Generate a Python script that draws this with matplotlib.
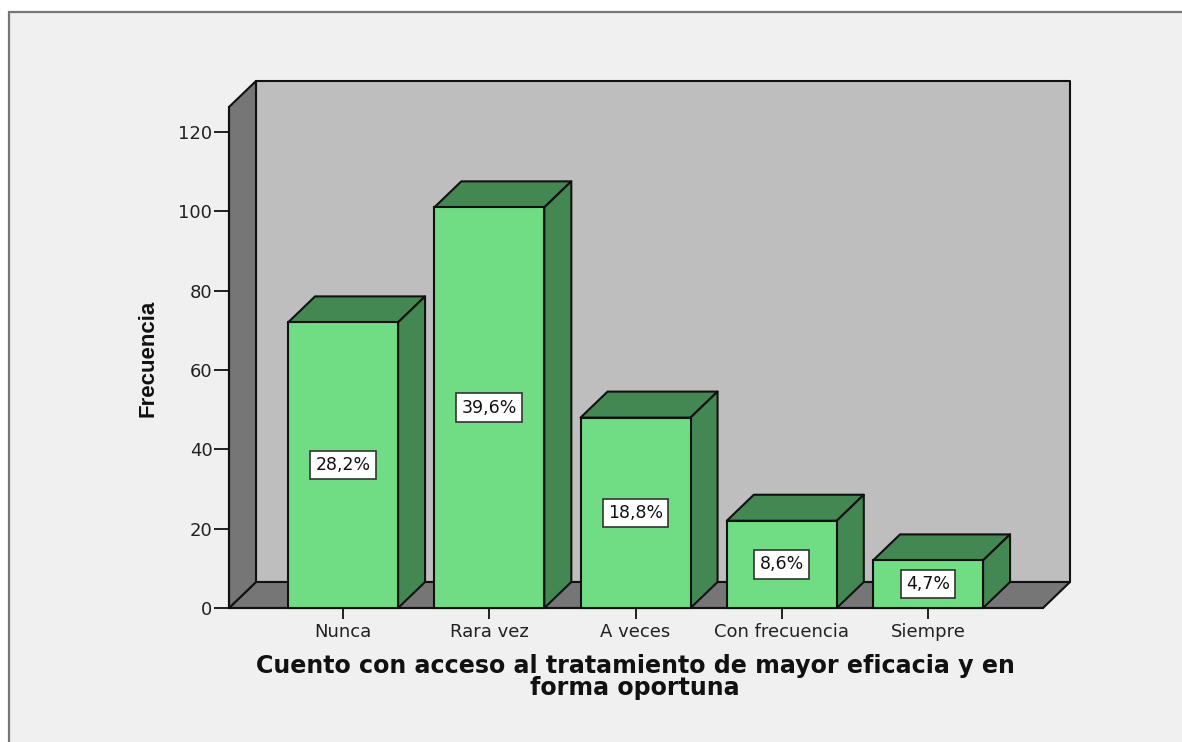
import matplotlib
matplotlib.use("Agg")
import matplotlib.pyplot as plt
from matplotlib.patches import Polygon, Rectangle

categories = ["Nunca", "Rara vez", "A veces", "Con frecuencia", "Siempre"]
values = [72, 101, 48, 22, 12]
percent_labels = ["28,2%", "39,6%", "18,8%", "8,6%", "4,7%"]
y_ticks = [0, 20, 40, 60, 80, 100, 120]
x_title = "Cuento con acceso al tratamiento de mayor eficacia y en\nforma oportuna"
y_title = "Frecuencia"

W, H = 1182, 742
FRONT, SIDE, WALL, DARK, BG, LINE = "#70dd85", "#438852", "#bebebe", "#767676", "#f0f0f0", "#111111"
LW = 1.5
BAR_W = 110 / 146.25
DX, DY = 27 / 146.25, 26 / 3.967
XLIM = (-0.78, 4.786)
YLIM = (0, 126.3)

fig = plt.figure(figsize=(W / 100, H / 100), dpi=100, facecolor="white")
fig.add_artist(Rectangle((9 / W, -10 / H), 1190 / W, (H - 12 + 10) / H, transform=fig.transFigure,
                         facecolor=BG, edgecolor="#777777", linewidth=1.6, zorder=-1))
ax = fig.add_axes([229 / W, (H - 608) / H, (1043 - 229) / W, (608 - 107) / H])
ax.patch.set_visible(False)
ax.set_xlim(*XLIM)
ax.set_ylim(*YLIM)


def face(pts, color, z):
    ax.add_patch(Polygon(pts, closed=True, facecolor=color, edgecolor=LINE, linewidth=LW,
                         joinstyle="round", clip_on=False, zorder=z))


x0, x1, y1 = XLIM[0], XLIM[1], YLIM[1]
face([(x0 + DX, DY), (x1 + DX, DY), (x1 + DX, y1 + DY), (x0 + DX, y1 + DY)], WALL, 1)
face([(x0, 0), (x1, 0), (x1 + DX, DY), (x0 + DX, DY)], DARK, 1.1)
face([(x0, 0), (x0 + DX, DY), (x0 + DX, y1 + DY), (x0, y1)], DARK, 1.2)

xs = list(range(len(values)))
ax.bar(xs, values, width=BAR_W, color=FRONT, edgecolor=LINE, linewidth=LW, zorder=3, clip_on=False)
for x, v, lab in zip(xs, values, percent_labels):
    l, r = x - BAR_W / 2, x + BAR_W / 2
    face([(l, v), (r, v), (r + DX, v + DY), (l + DX, v + DY)], SIDE, 2.5)
    face([(r, 0), (r + DX, DY), (r + DX, v + DY), (r, v)], SIDE, 2.5)
    ax.text(x, v / 2, lab, ha="center", va="center", fontsize=12.5, color="#111111",
            family="DejaVu Sans", zorder=5,
            bbox=dict(boxstyle="square,pad=0.3", facecolor="white", edgecolor="#333333", linewidth=1.2))

for s in ("top", "right"):
    ax.spines[s].set_visible(False)
for s in ("left", "bottom"):
    ax.spines[s].set_linewidth(LW)
    ax.spines[s].set_color(LINE)
    ax.spines[s].set_zorder(2)
ax.set_xticks(xs)
ax.set_xticklabels(categories, family="DejaVu Sans", fontsize=13, color="#222222")
ax.set_yticks(y_ticks)
ax.set_yticklabels([str(t) for t in y_ticks], family="DejaVu Sans", fontsize=13, color="#222222")
ax.tick_params(axis="x", length=8, width=1.3, color=LINE, pad=3)
ax.tick_params(axis="y", length=11, width=1.3, color=LINE, pad=1)

fig.text(635 / W, 1 - 677 / H, x_title, ha="center", va="center", fontsize=17.1, fontweight="bold",
         family="DejaVu Sans", color="#111111", linespacing=0.85)
fig.text(148 / W, 1 - 358 / H, y_title, ha="center", va="center", rotation=90, fontsize=16,
         fontweight="bold", family="Liberation Sans", color="#111111")

fig.savefig("out.png", dpi=100, facecolor=fig.get_facecolor())
